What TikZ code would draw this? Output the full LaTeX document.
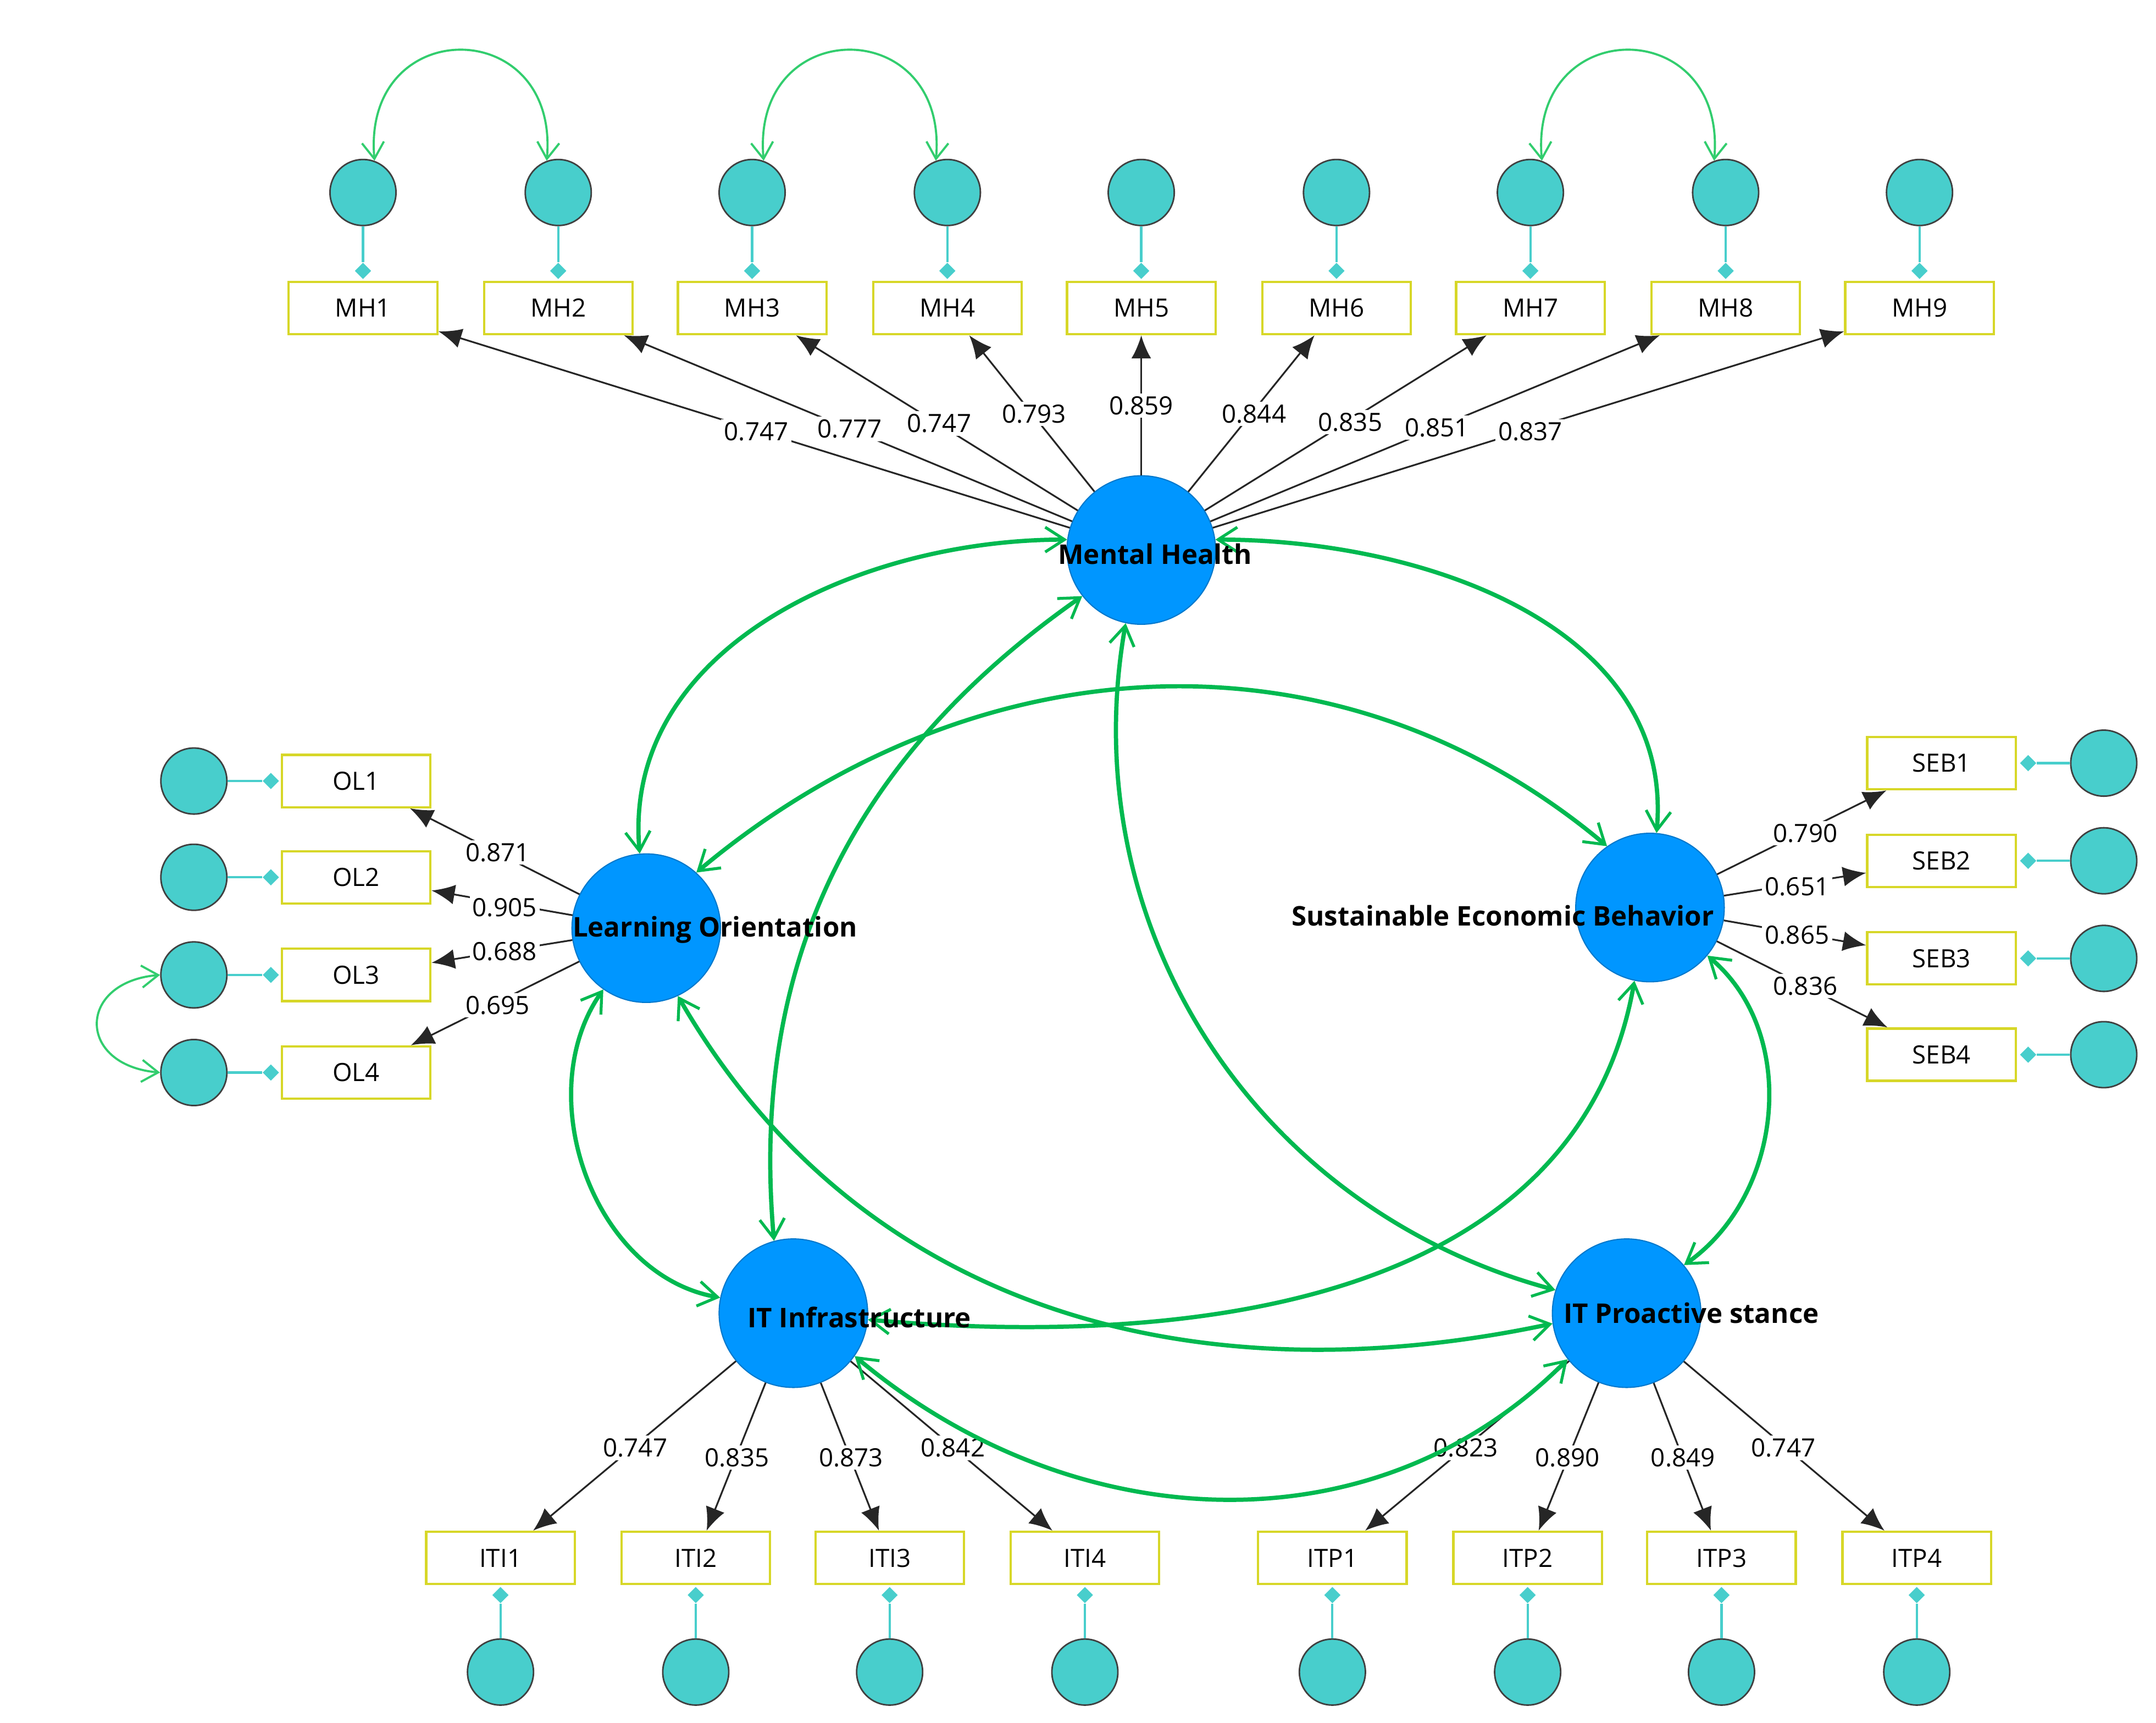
\documentclass[tikz,border=0pt]{standalone}
\usepackage{fontspec}
\setmainfont{Open Sans}
\usetikzlibrary{arrows.meta,shapes.geometric}
\definecolor{cblue}{RGB}{0,150,255}
\definecolor{cteal}{RGB}{72,206,204}
\definecolor{cyel}{RGB}{215,215,40}
\definecolor{cgreen}{RGB}{0,185,80}
\definecolor{clgreen}{RGB}{50,205,110}
\begin{document}
\begin{tikzpicture}[x=0.025cm,y=-0.025cm,
 lv/.style={circle,fill=cblue,draw=cblue!80!black,line width=0.6pt,minimum size=2.7cm,inner sep=0pt},
 lvt/.style={font=\fontsize{14}{16}\selectfont\bfseries,text=black},
 ind/.style={draw=cyel,line width=1.2pt,fill=white,minimum width=2.7cm,minimum height=0.95cm,font=\fontsize{13}{15}\selectfont,inner sep=0pt},
 err/.style={circle,fill=cteal,draw=black!75,line width=0.8pt,minimum size=1.2cm,inner sep=0pt},
 dia/.style={diamond,fill=cteal,minimum size=0.3cm,inner sep=0pt},
 eline/.style={draw=cteal,line width=1.2pt},
 load/.style={draw=black!85,line width=0.9pt,-{Latex[length=0.42cm,width=0.36cm]}},
 lab/.style={fill=white,inner sep=1.5pt,font=\fontsize{13}{15}\selectfont},
 cov/.style={draw=cgreen,line width=2.2pt,{Straight Barb[length=0.35cm,width=0.45cm,line width=1.5pt]}-{Straight Barb[length=0.35cm,width=0.45cm,line width=1.5pt]}},
 ecov/.style={draw=clgreen,line width=1.1pt,{Straight Barb[length=0.3cm,width=0.4cm]}-{Straight Barb[length=0.3cm,width=0.4cm]}}]
\useasboundingbox (0,0) rectangle (1568,1253);
% latent variables
\node[lv] (MH) at (830,400) {};
\node[lv] (LO) at (470,675) {};
\node[lv] (SEB) at (1200,660) {};
\node[lv] (ITI) at (577,955) {};
\node[lv] (ITP) at (1183,955) {};
% MH indicators
\foreach \i/\x in {1/264,2/406,3/547,4/689,5/830,6/972,7/1113,8/1255,9/1396}{
 \node[ind] (MH\i) at (\x,224) {MH\i};
 \node[err] (eMH\i) at (\x,140) {};
 \node[dia] (dMH\i) at (\x,197) {};
 \draw[eline] (eMH\i) -- (dMH\i);
 \draw[load] (MH) -- (MH\i);
}
\foreach \i/\y in {1/568,2/638,3/709,4/780}{
 \node[ind] (OL\i) at (259,\y) {OL\i};
 \node[err] (eOL\i) at (141,\y) {};
 \node[dia] (dOL\i) at (197,\y) {};
 \draw[eline] (eOL\i) -- (dOL\i);
 \draw[load] (LO) -- (OL\i);
}
\foreach \i/\y in {1/555,2/626,3/697,4/767}{
 \node[ind] (SEB\i) at (1412,\y) {SEB\i};
 \node[err] (eSEB\i) at (1530,\y) {};
 \node[dia] (dSEB\i) at (1475,\y) {};
 \draw[eline] (eSEB\i) -- (dSEB\i);
 \draw[load] (SEB) -- (SEB\i);
}
\foreach \i/\x in {1/364,2/506,3/647,4/789}{
 \node[ind] (ITI\i) at (\x,1133) {ITI\i};
 \node[err] (eITI\i) at (\x,1216) {};
 \node[dia] (dITI\i) at (\x,1160) {};
 \draw[eline] (eITI\i) -- (dITI\i);
 \draw[load] (ITI) -- (ITI\i);
}
\foreach \i/\x in {1/969,2/1111,3/1252,4/1394}{
 \node[ind] (ITP\i) at (\x,1133) {ITP\i};
 \node[err] (eITP\i) at (\x,1216) {};
 \node[dia] (dITP\i) at (\x,1160) {};
 \draw[eline] (eITP\i) -- (dITP\i);
 \draw[load] (ITP) -- (ITP\i);
}
% loading labels
\foreach \t/\x/\y in {0.747/550/314,0.777/618/312,0.747/683/308,0.793/752/301,0.859/830/295,0.844/912/301,0.835/982/307,0.851/1045/311,0.837/1113/314,
 0.871/362/620,0.905/367/660,0.688/367/692,0.695/362/731,
 0.790/1313/606,0.651/1307/645,0.865/1307/680,0.836/1313/717,
 0.747/462/1053,0.835/536/1060,0.873/619/1060,0.842/693/1053,
 0.823/1066/1053,0.890/1140/1060,0.849/1224/1060,0.747/1297/1053}
 \node[lab] at (\x,\y) {\t};
% error covariances
\draw[ecov] (eMH1.70) to[out=95,in=85,looseness=2.2] (eMH2.110);
\draw[ecov] (eMH3.70) to[out=95,in=85,looseness=2.2] (eMH4.110);
\draw[ecov] (eMH7.70) to[out=95,in=85,looseness=2.2] (eMH8.110);
\draw[ecov] (eOL3.180) to[out=185,in=175,looseness=2.2] (eOL4.180);
% structural covariances
\draw[cov] (MH.172) to[out=180,in=95] (LO.95);
\draw[cov] (MH.8) to[out=0,in=85] (SEB.85);
\draw[cov] (LO.48) to[out=40,in=140] (SEB.125);
\draw[cov] (MH.218) to[out=215,in=95] (ITI.105);
\draw[cov] (MH.258) to[out=260,in=165] (ITP.162);
\draw[cov] (LO.235) to[out=235,in=170] (ITI.168);
\draw[cov] (SEB.320) to[out=-40,in=35] (ITP.40);
\draw[cov] (LO.295) to[out=-60,in=192] (ITP.188);
\draw[cov] (ITI.355) to[out=-5,in=-100] (SEB.258);
\draw[cov] (ITI.325) to[out=-40,in=225] (ITP.218);
% latent labels
\node[lvt] at (840,403) {Mental Health};
\node[lvt] at (520,676) {Learning Orientation};
\node[lvt] at (1093,666) {Sustainable Economic Behavior};
\node[lvt] at (625,958) {IT Infrastructure};
\node[lvt] at (1230,955) {IT Proactive stance};
\end{tikzpicture}
\end{document}
